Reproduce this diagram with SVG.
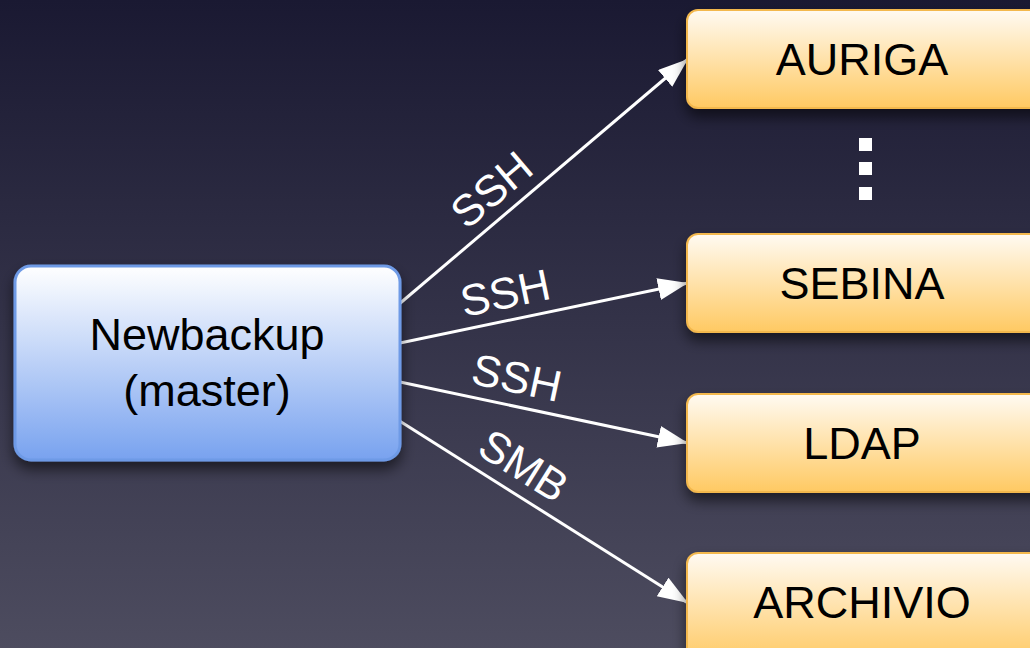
<svg xmlns="http://www.w3.org/2000/svg" width="1030" height="648" viewBox="0 0 1030 648">
<defs>
<linearGradient id="bg" x1="0" y1="0" x2="0" y2="1">
<stop offset="0" stop-color="#1a1932"/>
<stop offset="1" stop-color="#4d4c5f"/>
</linearGradient>
<linearGradient id="blue" x1="0" y1="0" x2="0" y2="1">
<stop offset="0" stop-color="#ffffff"/>
<stop offset="1" stop-color="#78a2ef"/>
</linearGradient>
<linearGradient id="orange" x1="0" y1="0" x2="0" y2="1">
<stop offset="0" stop-color="#fffaf2"/>
<stop offset="1" stop-color="#ffc962"/>
</linearGradient>
<filter id="shadow" x="-20%" y="-30%" width="140%" height="170%">
<feDropShadow dx="0" dy="8" stdDeviation="7" flood-color="#000" flood-opacity="0.55"/>
</filter>
<marker id="arrow" markerUnits="userSpaceOnUse" markerWidth="32" markerHeight="24" refX="30" refY="11" orient="auto">
<path d="M0,0 L30,11 L0,22 Z" fill="#ffffff"/>
</marker>
<style>
.node text { font-family: "Liberation Sans", Arial, sans-serif; font-size: 45px; fill: #000; text-anchor: middle; }
.target rect { fill: url(#orange); stroke: #f3b84e; stroke-width: 2; filter: url(#shadow); }
.conn line { stroke: #ffffff; stroke-width: 3; marker-end: url(#arrow); }
.lbl { font-family: "Liberation Sans", Arial, sans-serif; font-size: 44px; fill: #ffffff; text-anchor: middle; }
.dot { fill: #ffffff; }
</style>
</defs>
<rect width="1030" height="648" fill="url(#bg)"/>

<g id="connectors" class="conn">
<line x1="398" y1="305" x2="688" y2="59"/>
<line x1="400" y1="343" x2="688" y2="283"/>
<line x1="400" y1="382" x2="688" y2="443"/>
<line x1="398" y1="420" x2="688" y2="603"/>
<text class="lbl" transform="translate(491,189) rotate(-40.3)" y="16">SSH</text>
<text class="lbl" transform="translate(505,292) rotate(-11.8)" y="16">SSH</text>
<text class="lbl" transform="translate(517,377) rotate(12)" y="16">SSH</text>
<text class="lbl" transform="translate(524,465) rotate(32.3)" y="16">SMB</text>
</g>

<g id="master" class="node">
<rect x="15" y="266" width="385" height="194" rx="16" fill="url(#blue)" stroke="#6e9ae6" stroke-width="3" filter="url(#shadow)"/>
<text x="207" y="350">Newbackup</text>
<text x="207" y="406">(master)</text>
</g>

<g id="auriga" class="node target">
<rect x="687" y="10" width="370" height="98" rx="11"/>
<text x="862" y="75">AURIGA</text>
</g>

<g id="ellipsis">
<rect class="dot" x="859" y="138" width="13" height="13"/>
<rect class="dot" x="859" y="162" width="13" height="13"/>
<rect class="dot" x="859" y="187" width="13" height="13"/>
</g>

<g id="sebina" class="node target">
<rect x="687" y="234" width="370" height="98" rx="11"/>
<text x="862" y="299">SEBINA</text>
</g>

<g id="ldap" class="node target">
<rect x="687" y="394" width="370" height="98" rx="11"/>
<text x="862" y="459">LDAP</text>
</g>

<g id="archivio" class="node target">
<rect x="687" y="553" width="370" height="110" rx="11"/>
<text x="862" y="618">ARCHIVIO</text>
</g>
</svg>
